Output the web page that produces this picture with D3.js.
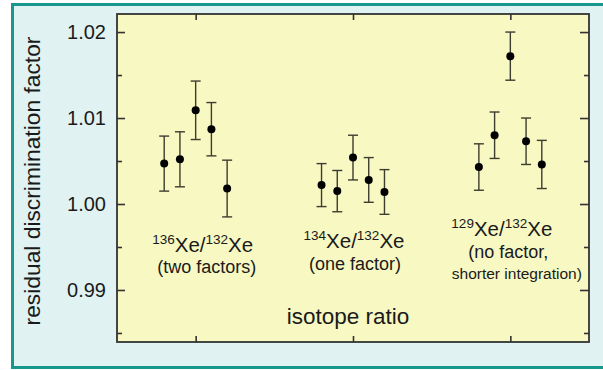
<!DOCTYPE html>
<html>
<head>
<meta charset="utf-8">
<script src="https://cdn.jsdelivr.net/npm/d3@7"></script>
<style>
  body { margin: 0; background: #fff; }
  svg { display: block; font-family: "Liberation Sans", Arial, sans-serif; }
</style>
</head>
<body>
<script>
"use strict"

// isotope ratio groups (x = 1, 2, 3)
const groupIsotopes = [["136", "132"], ["134", "132"], ["129", "132"]];
const groupNotes = [["(two factors)"], ["(one factor)"], ["(no factor,", "shorter integration)"]];

// residual discrimination factor, five runs per group, with error
const xe136 = [1.0047, 1.0052, 1.0109, 1.0087, 1.0018];
const xe136Err = [0.0032, 0.0032, 0.0034, 0.0031, 0.0033];
const xe134 = [1.0022, 1.0015, 1.0054, 1.0028, 1.0014];
const xe134Err = [0.0025, 0.0024, 0.0026, 0.0026, 0.0026];
const xe129 = [1.0043, 1.0080, 1.0172, 1.0073, 1.0046];
const xe129Err = [0.0027, 0.0027, 0.0028, 0.0027, 0.0028];

const yTicks = [0.99, 1.00, 1.01, 1.02];
const yMinor = [0.985, 0.995, 1.005, 1.015];
const xTicks = [1, 2, 3];

const w = 603;
const h = 370;
const m = { left: 117, right: 589, top: 14, bottom: 342 };

const series = [[xe136, xe136Err], [xe134, xe134Err], [xe129, xe129Err]];
const dataset = [];
series.forEach((s, g) => {
	s[0].forEach((v, i) => {
		dataset.push({ x: g + 1 + (i - 2) * 0.1, y: v, err: s[1][i] });
	});
});

const svg = d3.select("body")
	.append("svg")
	.attr("width", w)
	.attr("height", h);

// outer panel
svg.append("rect")
	.attr("x", 12.5)
	.attr("y", 4.5)
	.attr("width", 600)
	.attr("height", 363)
	.attr("fill", "#e0f2f2")
	.attr("stroke", "#18978f")
	.attr("stroke-width", 3);

svg.append("rect")
	.attr("x", m.left)
	.attr("y", m.top)
	.attr("width", m.right - m.left)
	.attr("height", m.bottom - m.top)
	.attr("fill", "#f7f8c2");

const xScale = d3.scaleLinear()
	.domain([0.5, 3.5])
	.range([m.left, m.right]);
const yScale = d3.scaleLinear()
	.domain([0.98395, 1.0221])
	.range([m.bottom, m.top]);

// axes, ticks pointing inward
function tickAxis(axis, ticks, size, transform) {
	const g = svg.append("g")
		.attr("transform", transform)
		.call(axis.tickValues(ticks).tickSize(size).tickFormat(""));
	g.select(".domain").remove();
	g.selectAll("line").attr("stroke", "#333").attr("stroke-width", 1.6);
	return g;
}

tickAxis(d3.axisRight(yScale), yTicks, 8, `translate(${m.left},0)`);
tickAxis(d3.axisRight(yScale), yMinor, 5, `translate(${m.left},0)`);
tickAxis(d3.axisLeft(yScale), yTicks, 9, `translate(${m.right},0)`);
tickAxis(d3.axisLeft(yScale), yMinor, 5, `translate(${m.right},0)`);
tickAxis(d3.axisBottom(xScale), xTicks, 6, `translate(0,${m.top})`);
tickAxis(d3.axisTop(xScale), xTicks, 6, `translate(0,${m.bottom})`);

svg.append("rect")
	.attr("x", m.left)
	.attr("y", m.top)
	.attr("width", m.right - m.left)
	.attr("height", m.bottom - m.top)
	.attr("fill", "none")
	.attr("stroke", "#333")
	.attr("stroke-width", 1.8);

// y tick labels
svg.append("g")
	.selectAll("text")
	.data(yTicks)
	.enter()
	.append("text")
	.attr("x", m.left - 11)
	.attr("y", d => yScale(d))
	.attr("dy", "0.36em")
	.attr("text-anchor", "end")
	.attr("font-size", 20)
	.attr("fill", "#1a1a1a")
	.text(d => d.toFixed(2));

svg.append("text")
	.attr("transform", `translate(40,${(m.top + m.bottom) / 2 + 3}) rotate(-90)`)
	.attr("text-anchor", "middle")
	.attr("font-size", 22.8)
	.attr("fill", "#1a1a1a")
	.text("residual discrimination factor");

svg.append("text")
	.attr("x", xScale(2) - 5)
	.attr("y", 324)
	.attr("text-anchor", "middle")
	.attr("font-size", 22.5)
	.attr("fill", "#1a1a1a")
	.text("isotope ratio");

// error bars
const bars = svg.append("g")
	.selectAll("g")
	.data(dataset)
	.enter()
	.append("g")
	.attr("stroke", "#3c3c30")
	.attr("stroke-width", 1.4);

bars.append("line")
	.attr("x1", d => xScale(d.x))
	.attr("x2", d => xScale(d.x))
	.attr("y1", d => yScale(d.y - d.err))
	.attr("y2", d => yScale(d.y + d.err));
bars.append("line")
	.attr("x1", d => xScale(d.x) - 5)
	.attr("x2", d => xScale(d.x) + 5)
	.attr("y1", d => yScale(d.y + d.err))
	.attr("y2", d => yScale(d.y + d.err));
bars.append("line")
	.attr("x1", d => xScale(d.x) - 5)
	.attr("x2", d => xScale(d.x) + 5)
	.attr("y1", d => yScale(d.y - d.err))
	.attr("y2", d => yScale(d.y - d.err));

svg.append("g")
	.selectAll("circle")
	.data(dataset)
	.enter()
	.append("circle")
	.attr("class", "dot")
	.attr("cx", d => xScale(d.x))
	.attr("cy", d => yScale(d.y))
	.attr("r", 4)
	.attr("fill", "#000");

// group labels
const labelPos = [[7, 252, 273], [1, 248, 270], [-8.5, 236, 258, 279]];
const noteSize = [[18], [18], [18, 15.5]];
const noteShift = [[11], [2], [-2, 6.5]];

groupIsotopes.forEach((iso, g) => {
	const t = svg.append("text")
		.attr("x", xScale(g + 1) + labelPos[g][0])
		.attr("y", labelPos[g][1])
		.attr("text-anchor", "middle")
		.attr("font-size", 20.5)
		.attr("fill", "#1a1a1a");
	t.append("tspan").attr("font-size", 13.5).attr("dy", -8).text(iso[0]);
	t.append("tspan").attr("dy", 8).text("Xe/");
	t.append("tspan").attr("font-size", 13.5).attr("dy", -8).text(iso[1]);
	t.append("tspan").attr("dy", 8).text("Xe");

	groupNotes[g].forEach((note, k) => {
		svg.append("text")
			.attr("x", xScale(g + 1) + noteShift[g][k])
			.attr("y", labelPos[g][k + 2])
			.attr("text-anchor", "middle")
			.attr("font-size", noteSize[g][k])
			.attr("fill", "#1a1a1a")
			.text(note);
	});
});
</script>
</body>
</html>
